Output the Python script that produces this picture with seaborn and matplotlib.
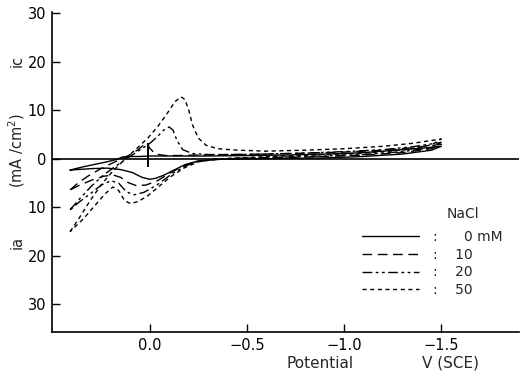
import matplotlib
matplotlib.use("Agg")
import matplotlib.pyplot as plt
from matplotlib.lines import Line2D
import numpy as np
import pandas as pd
import seaborn as sns

# ---------------- data ----------------
conc_labels = ["0 mM", "10", "20", "50"]

# 0 mM NaCl (forward cathodic scan, then return)
E_0 = [0.41, 0.35, 0.28, 0.22, 0.17, 0.14, 0.10, 0.05, 0.0, -0.1, -0.2, -0.3, -0.5, -0.7, -0.9, -1.0, -1.1, -1.2, -1.3, -1.4, -1.5,
       -1.45, -1.3, -1.1, -0.9, -0.7, -0.5, -0.35, -0.25, -0.18, -0.12, -0.07, -0.03, 0.0, 0.04, 0.09, 0.15, 0.22, 0.3, 0.41]
I_0 = [-2.3, -1.7, -1.1, -0.6, -0.1, 0.4, 0.5, 0.5, 0.6, 0.6, 0.6, 0.6, 0.7, 0.8, 1.0, 1.1, 1.3, 1.6, 1.9, 2.2, 2.6,
       1.8, 1.0, 0.5, 0.2, 0.1, 0.0, -0.1, -0.4, -1.2, -2.4, -3.4, -4.0, -4.2, -3.8, -2.8, -2.2, -1.9, -2.0, -2.3]

# 10 mM
E_10 = [0.41, 0.37, 0.32, 0.26, 0.20, 0.15, 0.10, 0.06, 0.03, 0.015, 0.0, -0.03, -0.08, -0.15, -0.25, -0.4, -0.6, -0.8, -1.0, -1.2, -1.35, -1.5,
        -1.45, -1.3, -1.1, -0.9, -0.7, -0.5, -0.35, -0.25, -0.17, -0.1, -0.04, 0.02, 0.07, 0.11, 0.15, 0.19, 0.24, 0.3, 0.36, 0.41]
I_10 = [-6.4, -5.0, -3.6, -2.2, -1.0, -0.1, 0.9, 1.9, 2.9, 3.3, 2.2, 1.0, 0.7, 0.7, 0.8, 0.9, 1.0, 1.2, 1.4, 1.8, 2.3, 3.0,
        2.1, 1.3, 0.8, 0.5, 0.3, 0.1, -0.1, -0.5, -1.5, -3.0, -4.5, -5.4, -5.5, -4.9, -3.8, -3.3, -3.6, -4.4, -5.4, -6.4]

# 20 mM
E_20 = [0.41, 0.36, 0.30, 0.24, 0.18, 0.12, 0.06, 0.0, -0.04, -0.07, -0.10, -0.12, -0.14, -0.17, -0.22, -0.3, -0.45, -0.6, -0.8, -1.0, -1.2, -1.35, -1.5,
        -1.45, -1.3, -1.1, -0.9, -0.7, -0.5, -0.35, -0.25, -0.18, -0.11, -0.04, 0.03, 0.08, 0.12, 0.16, 0.2, 0.25, 0.3, 0.36, 0.41]
I_20 = [-10.5, -8.2, -5.6, -3.4, -1.6, 0.0, 1.6, 3.2, 4.6, 5.9, 6.6, 5.9, 3.8, 1.9, 1.1, 0.9, 0.9, 1.0, 1.2, 1.5, 1.9, 2.5, 3.4,
        2.3, 1.5, 0.9, 0.6, 0.4, 0.2, 0.0, -0.5, -1.5, -3.2, -5.3, -6.9, -7.4, -6.8, -5.0, -4.5, -5.4, -7.0, -8.8, -10.5]

# 50 mM
E_50 = [0.41, 0.36, 0.31, 0.26, 0.21, 0.16, 0.11, 0.06, 0.01, -0.04, -0.09, -0.13, -0.16, -0.18, -0.20, -0.22, -0.25, -0.29, -0.35, -0.45, -0.6, -0.8, -1.0, -1.2, -1.35, -1.5,
        -1.45, -1.3, -1.1, -0.9, -0.7, -0.5, -0.35, -0.25, -0.18, -0.11, -0.05, 0.01, 0.06, 0.10, 0.13, 0.16, 0.19, 0.23, 0.28, 0.34, 0.41]
I_50 = [-15.0, -12.0, -8.8, -5.9, -3.4, -1.3, 0.6, 2.4, 4.3, 6.6, 9.4, 11.8, 12.8, 12.3, 10.2, 7.0, 4.3, 2.8, 2.1, 1.8, 1.6, 1.8, 2.1, 2.6, 3.2, 4.1,
        2.9, 1.8, 1.2, 0.9, 0.6, 0.3, 0.0, -0.6, -1.8, -3.6, -5.6, -7.6, -8.8, -9.2, -8.6, -6.5, -5.8, -7.2, -9.5, -12.3, -15.0]

# short vertical marker near 0 V
marker_E = 0.01
marker_I = (-1.7, 3.3)

x_ticks = [0.0, -0.5, -1.0, -1.5]
x_ticklabels = ["0.0", "\u22120.5", "\u22121.0", "\u22121.5"]
y_ticks = [-30, -20, -10, 0, 10, 20, 30]
y_ticklabels = ["30", "20", "10", "0", "10", "20", "30"]

# ---------------- build table ----------------
frames = []
for lab, E, I in zip(conc_labels, [E_0, E_10, E_20, E_50], [I_0, I_10, I_20, I_50]):
    frames.append(pd.DataFrame({"E": E, "I": I, "NaCl": lab}))
df = pd.concat(frames, ignore_index=True)

dash_map = {
    "0 mM": "",
    "10": (7, 4),
    "20": (7, 2.5, 2, 2.5, 2, 2.5),
    "50": (3, 2.5),
}

sns.set_style("ticks")
plt.rcParams["font.family"] = ["DejaVu Sans"]

W, H = 524, 376
fig = plt.figure(figsize=(W / 100, H / 100), dpi=100)
ax = fig.add_axes([52 / W, 1 - 332 / H, (519 - 52) / W, (332 - 12) / H])

ax.axhline(0, color="black", lw=1.2, zorder=1)
sns.lineplot(data=df, x="E", y="I", style="NaCl", style_order=conc_labels,
             dashes=dash_map, sort=False, estimator=None, color="black",
             lw=1.0, legend=False, ax=ax)
ax.vlines(marker_E, marker_I[0], marker_I[1], color="black", lw=1.4)

ax.set_xlim(0.503, -1.90)
ax.set_ylim(-35.7, 30.3)
ax.set_xticks(x_ticks)
ax.set_xticklabels(x_ticklabels)
ax.set_yticks(y_ticks)
ax.set_yticklabels(y_ticklabels)
ax.tick_params(direction="in", length=5.5, width=1.0, labelsize=10.5, pad=4, colors="black")
for s in ["top", "right"]:
    ax.spines[s].set_visible(False)
for s in ["left", "bottom"]:
    ax.spines[s].set_linewidth(1.2)
    ax.spines[s].set_color("black")
ax.set_xlabel("")
ax.set_ylabel("")

# axis titles
fs = 10.5
fig.text(17 / W, 1 - 61 / H, "ic", rotation=90, ha="center", va="center", fontsize=fs)
fig.text(17 / W, 1 - 150 / H, "(mA /cm$^2$)", rotation=90, ha="center", va="center", fontsize=fs)
fig.text(17 / W, 1 - 242 / H, "ia", rotation=90, ha="center", va="center", fontsize=fs)
fig.text(320 / W, 1 - 363 / H, "Potential", ha="center", va="center", fontsize=11)
fig.text(451 / W, 1 - 363 / H, "V (SCE)", ha="center", va="center", fontsize=11)

# legend
handles = [Line2D([], [], color="black", lw=1.0,
                  linestyle="-" if dash_map[l] == "" else (0, dash_map[l]))
           for l in conc_labels]
leg_labels = [":    \u20070 mM", ":    10", ":    20", ":    50"]
leg = ax.legend(handles, leg_labels, loc="upper left",
                bbox_to_anchor=(362 / W, 1 - 230 / H), bbox_transform=fig.transFigure,
                frameon=False, fontsize=10, handlelength=4.1, handletextpad=1.0,
                labelspacing=0.27, borderpad=0, borderaxespad=0)
fig.text(463 / W, 1 - 214 / H, "NaCl", ha="center", va="center", fontsize=10)

fig.savefig("out.png", dpi=100)
